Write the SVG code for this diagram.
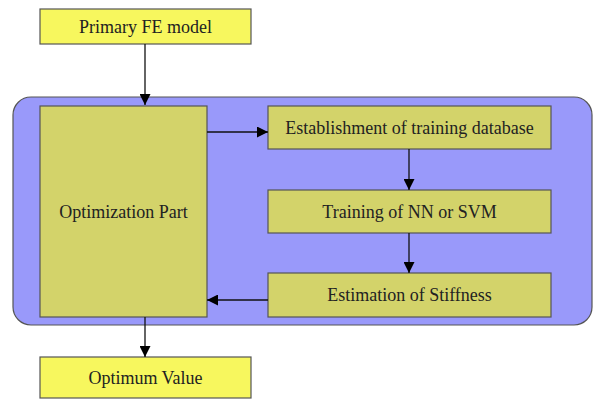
<svg xmlns="http://www.w3.org/2000/svg" width="594" height="401" viewBox="0 0 594 401">
<defs>
<style>
.b{fill:#f7f75e;stroke:#555;stroke-width:1.2}
.i{fill:#d3d36a;stroke:#555;stroke-width:1.2}
text{font-family:'Liberation Serif','DejaVu Serif','Times New Roman',serif;font-size:18px;fill:#222;text-anchor:middle;dominant-baseline:central}
.c{stroke:#111;stroke-width:1.3;fill:none;marker-end:url(#a)}
</style>
<marker id="a" viewBox="0 0 10 10" refX="10" refY="5" markerWidth="11" markerHeight="11" markerUnits="userSpaceOnUse" orient="auto">
<path d="M0,0 L10,5 L0,10 z" fill="#000"/>
</marker>
</defs>
<rect width="594" height="401" fill="#fff"/>
<g id="container"><rect x="13" y="97" width="579" height="228" rx="18" fill="#9999fa" stroke="#555" stroke-width="1.2"/></g>
<g id="primary"><rect class="b" x="40" y="9" width="211" height="35"/><text x="145.5" y="26.5">Primary FE model</text></g>
<g id="opt"><rect class="i" x="40" y="106" width="167" height="211"/><text x="123.5" y="211.5">Optimization Part</text></g>
<g id="est"><rect class="i" x="268" y="106" width="283" height="43"/><text x="409.5" y="127.5">Establishment of training database</text></g>
<g id="train"><rect class="i" x="268" y="190" width="283" height="43"/><text x="409.5" y="211.5">Training of NN or SVM</text></g>
<g id="stiff"><rect class="i" x="268" y="273" width="283" height="44"/><text x="409.5" y="295">Estimation of Stiffness</text></g>
<g id="optimum"><rect class="b" x="40" y="357" width="211" height="41"/><text x="145.5" y="377.5">Optimum Value</text></g>
<g id="connectors">
<path class="c" d="M145,44 V105"/>
<path class="c" d="M207,132 H268"/>
<path class="c" d="M409,149 V190"/>
<path class="c" d="M409,233 V273"/>
<path class="c" d="M268,300 H207"/>
<path class="c" d="M145,317 V357"/>
</g>
</svg>
